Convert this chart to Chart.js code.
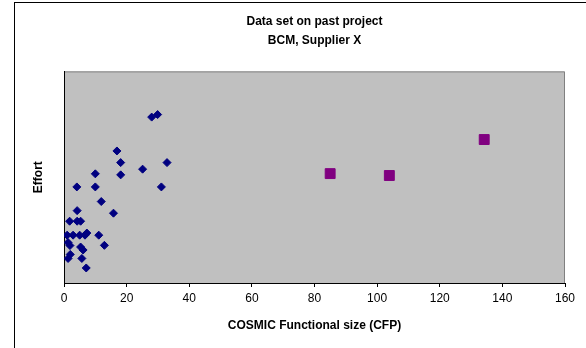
<!DOCTYPE html>
<html>
<head>
<meta charset="utf-8">
<script src="https://cdn.jsdelivr.net/npm/chart.js@4/dist/chart.umd.min.js"></script>
<style>
  html, body { margin: 0; padding: 0; background: #ffffff; }
  #wrap { width: 586px; height: 348px; position: relative; }
</style>
</head>
<body>
<div id="wrap"><canvas id="c" width="586" height="348"></canvas></div>
<script>
// Past projects (COSMIC size in CFP, effort in arbitrary units)
const pastSize = [28.0, 29.9, 16.9, 18.1, 32.9, 25.1, 10.0, 18.1, 4.1, 10.0, 31.1, 11.9, 4.2, 15.8,
  1.8, 4.2, 5.3, 1.0, 2.9, 5.0, 6.7, 7.3, 11.1, 1.3, 1.9, 5.3, 6.1, 12.9, 2.0, 1.3, 5.7, 7.1];
const pastEffort = [784, 796, 624, 569, 569, 538, 516, 511, 454, 454, 454, 385, 342, 330,
  292, 292, 292, 226, 226, 226, 226, 236, 226, 191, 177, 170, 156, 178, 135, 116, 116, 71];
// Larger projects
const bigSize = [85.0, 103.9, 134.2];
const bigEffort = [517, 508, 678];
const xTicks = [0, 20, 40, 60, 80, 100, 120, 140, 160];

const titleLines = ['Data set on past project', 'BCM, Supplier X'];
const xTitle = 'COSMIC Functional size (CFP)';
const yTitle = 'Effort';

const toPts = (xs, ys) => xs.map((x, i) => ({ x: x, y: ys[i] }));

const frame = {
  id: 'frame',
  beforeDraw(chart) {
    const ctx = chart.ctx, a = chart.chartArea;
    ctx.save();
    ctx.fillStyle = '#ffffff';
    ctx.fillRect(0, 0, chart.width, chart.height);
    ctx.strokeStyle = '#000000';
    ctx.lineWidth = 1;
    ctx.strokeRect(14.5, 2.5, 700, 500);
    ctx.fillStyle = '#C0C0C0';
    ctx.fillRect(a.left, a.top, a.right - a.left, a.bottom - a.top);
    ctx.strokeStyle = '#808080';
    ctx.beginPath();
    ctx.moveTo(a.left, a.top + 0.5);
    ctx.lineTo(a.right - 0.5, a.top + 0.5);
    ctx.lineTo(a.right - 0.5, a.bottom);
    ctx.stroke();
    ctx.restore();
  }
};

new Chart(document.getElementById('c'), {
  type: 'scatter',
  data: {
    datasets: [
      {
        data: toPts(pastSize, pastEffort),
        pointStyle: 'rectRot',
        pointRadius: 4,
        backgroundColor: '#000080',
        borderColor: '#000080',
        borderWidth: 1
      },
      {
        data: toPts(bigSize, bigEffort),
        pointStyle: 'rect',
        pointRadius: 7,
        backgroundColor: '#800080',
        borderColor: '#800080',
        borderWidth: 1
      }
    ]
  },
  options: {
    responsive: false,
    animation: false,
    devicePixelRatio: 1,
    layout: { padding: { left: 0, right: 21, top: 0, bottom: 0 } },
    plugins: {
      legend: { display: false },
      tooltip: { enabled: false },
      title: {
        display: true,
        fullSize: false,
        text: titleLines,
        color: '#000000',
        font: { family: 'Liberation Sans, Arial, sans-serif', size: 12, weight: 'bold', lineHeight: 1.6 },
        padding: { top: 12, bottom: 21 }
      }
    },
    scales: {
      x: {
        type: 'linear',
        min: 0,
        max: 160,
        afterBuildTicks(scale) { scale.ticks = xTicks.map(v => ({ value: v })); },
        afterFit(scale) { scale.height = 65; },
        grid: { display: true, drawOnChartArea: false, drawTicks: true, tickLength: 4, color: '#000000' },
        border: { display: true, color: '#000000', width: 1 },
        ticks: {
          color: '#000000',
          padding: 4,
          maxRotation: 0,
          font: { family: 'Liberation Sans, Arial, sans-serif', size: 12 }
        },
        title: {
          display: true,
          text: xTitle,
          color: '#000000',
          font: { family: 'Liberation Sans, Arial, sans-serif', size: 12, weight: 'bold' },
          padding: { top: 0, bottom: 15 }
        }
      },
      y: {
        type: 'linear',
        min: 0,
        max: 1000,
        afterFit(scale) { scale.width = 64; },
        grid: { display: false },
        border: { display: true, color: '#000000', width: 1 },
        ticks: { display: false },
        title: {
          display: true,
          text: yTitle,
          color: '#000000',
          font: { family: 'Liberation Sans, Arial, sans-serif', size: 12, weight: 'bold' },
          padding: { top: 31, bottom: 0 }
        }
      }
    }
  },
  plugins: [frame]
});
</script>
</body>
</html>
